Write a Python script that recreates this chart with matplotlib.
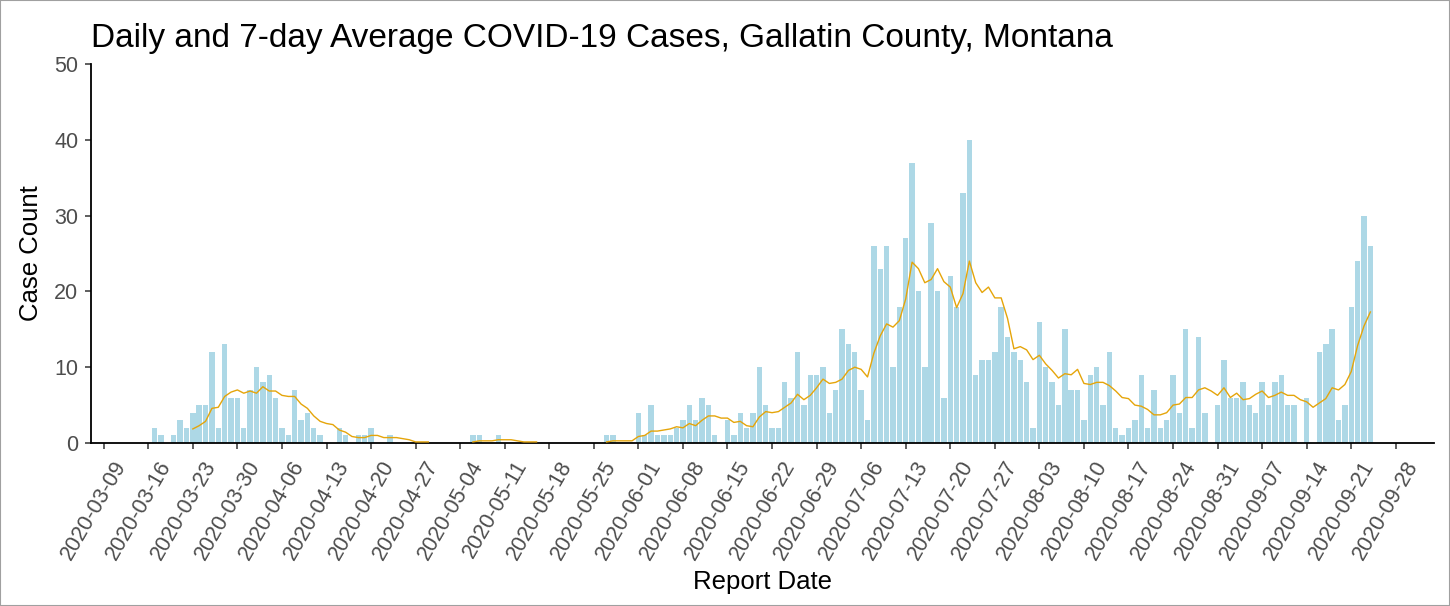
import numpy as np
import pandas as pd
import matplotlib
matplotlib.use("Agg")
import matplotlib.pyplot as plt
from matplotlib.patches import Rectangle
from matplotlib.transforms import ScaledTranslation

plt.rcParams['font.family'] = ['Liberation Sans', 'DejaVu Sans']

# daily reported cases, one value per day starting at first_date
first_date = "2020-03-17"
daily_cases = [
    2, 1, 0, 1, 3, 2, 4, 5, 5, 12, 2, 13, 6, 6,            # 03-17 .. 03-30
    2, 7, 10, 8, 9, 6, 2, 1, 7, 3, 4, 2, 1, 0,             # 03-31 .. 04-13
    0, 2, 1, 0, 1, 1, 2, 0, 0, 1, 0, 0, 0, 0,              # 04-14 .. 04-27
    0, 0, 0, 0, 0, 0, 0, 0, 1, 1, 0, 0, 1, 0,              # 04-28 .. 05-11
    0, 0, 0, 0, 0, 0, 0, 0, 0, 0, 0, 0, 0, 0,              # 05-12 .. 05-25
    0, 1, 1, 0, 0, 0, 4, 1, 5, 1, 1, 1, 2, 3,              # 05-26 .. 06-08
    5, 3, 6, 5, 1, 0, 3, 1, 4, 2, 4, 10, 5, 2,             # 06-09 .. 06-22
    2, 8, 6, 12, 5, 9, 9, 10, 4, 7, 15, 13, 12, 7,         # 06-23 .. 07-06
    3, 26, 23, 26, 10, 18, 27, 37, 20, 10, 29, 20, 6, 22,  # 07-07 .. 07-20
    18, 33, 40, 9, 11, 11, 12, 18, 14, 12, 11, 8, 2, 16,   # 07-21 .. 08-03
    10, 8, 5, 15, 7, 7, 3, 9, 10, 5, 12, 2, 1, 2,          # 08-04 .. 08-17
    3, 9, 2, 7, 2, 3, 9, 4, 15, 2, 14, 4, 0, 5,            # 08-18 .. 08-31
    11, 6, 6, 8, 5, 4, 8, 5, 8, 9, 5, 5, 0, 6,             # 09-01 .. 09-14
    0, 12, 13, 15, 3, 5, 18, 24, 30, 26,                   # 09-15 .. 09-24
]
tick_dates = pd.date_range("2020-03-09", "2020-09-28", freq="7D")
x_range = ("2020-03-07", "2020-10-04")

dates = pd.date_range(first_date, periods=len(daily_cases), freq="D")
cases = pd.Series(daily_cases, index=dates, dtype=float)
avg7 = cases.rolling(7).mean()
avg7[cases.rolling(7).sum() == 0] = np.nan  # no line where the week had no cases

fig = plt.figure(figsize=(14.5, 6.06), dpi=100)
ax = fig.add_axes([91 / 1450, 1 - 443 / 606, (1434 - 91) / 1450, (443 - 64) / 606])

ax.bar(dates, cases.values, width=0.85, color='lightblue', zorder=2)
ax.plot(avg7.index, avg7.values, color='#E5A50A', linewidth=1.0, zorder=3)

ax.set_xlim(pd.Timestamp(x_range[0]), pd.Timestamp(x_range[1]))
ax.set_ylim(0, 50)
ax.set_yticks([0, 10, 20, 30, 40, 50])
ax.set_xticks(tick_dates)
ax.set_xticklabels([d.strftime('%Y-%m-%d') for d in tick_dates])

for side in ['top', 'right']:
    ax.spines[side].set_visible(False)
for side in ['left', 'bottom']:
    ax.spines[side].set_linewidth(1.3)
    ax.spines[side].set_color('black')

ax.tick_params(axis='both', colors='#333333', labelcolor='#4D4D4D',
               labelsize=15.5, length=4, width=1.1)
ax.tick_params(axis='y', pad=5)
ax.tick_params(axis='x', pad=6)
offset = ScaledTranslation(9 / 100, 0, fig.dpi_scale_trans)
for lab in ax.get_xticklabels():
    lab.set_rotation(60)
    lab.set_rotation_mode('anchor')
    lab.set_ha('right')
    lab.set_va('top')
    lab.set_transform(lab.get_transform() + offset)

ax.set_xlabel('Report Date', fontsize=18.5, color='black')
ax.set_ylabel('Case Count', fontsize=18.5, color='black')
ax.xaxis.set_label_coords(0.5, -0.335)
ax.yaxis.set_label_coords(-0.036, 0.5)

fig.text(91 / 1450, 1 - 47 / 606,
         'Daily and 7-day Average COVID-19 Cases, Gallatin County, Montana',
         fontsize=24, ha='left', va='baseline', color='black')

fig.patches.append(Rectangle((0, 0), 1, 1, transform=fig.transFigure,
                             fill=False, edgecolor='#A0A0A0', linewidth=1.5))

fig.savefig('out.png', dpi=100)
